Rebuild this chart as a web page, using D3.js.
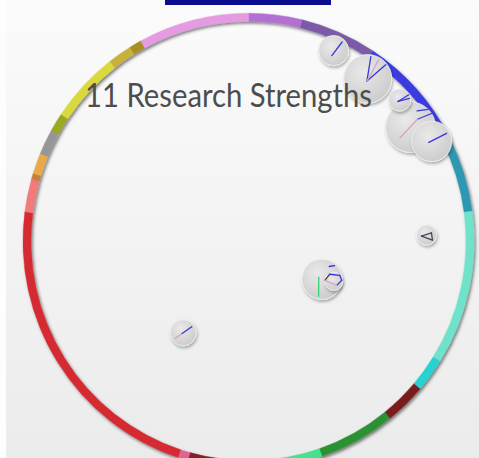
<!DOCTYPE html>
<html lang="en">
  <head>
    <meta charset="utf-8">
    <title>11 Research Strengths</title>
    <script src="https://d3js.org/d3.v7.min.js"></script>
    <style>
      body { margin: 0; overflow: hidden; }
    </style>
  </head>
<body>

  <div id="my_dataviz"></div>

  <script>

  // ---------------------------//
  //          DATA              //
  // ---------------------------//

  // ring segments, clockwise from 12 o'clock (span in degrees)
  var segSpans  = [13.8, 19.7, 29.2, 19.8, 39.4, 8.6, 10.7, 19.8, 17, 17.6, 2.6,
                   79.2, 8.4, 1.5, 5.3, 6.4, 4.8, 18.3, 6.2, 3.2, 28.5]
  var segColors = ["#b36fd2", "#7b5aa6", "#3b3be0", "#2e98b2", "#6fe2c9", "#26d2d2",
                   "#7a1d1f", "#2a9233", "#42e28f", "#80202a", "#e2638f", "#d52b32",
                   "#f27a7a", "#c7803c", "#e9a94a", "#969696", "#9aa824", "#d9d93c",
                   "#c6b13c", "#a88f24", "#e59be2"]

  // bubbles: angle (deg), distance from centre (0-1 of ring), size
  var bubbleAngle = [24.3, 36.6, 55.2, 47.3, 61.7, 88.1, 117.3, 115.1, 215.7]
  var bubbleDist  = [0.934, 0.903, 0.891, 0.929, 0.939, 0.804, 0.373, 0.425, 0.505]
  var bubbleSize  = [225, 576, 625, 121, 400, 100, 400, 81, 169]

  // links inside each bubble: [angle1, frac1, angle2, frac2, colour index]
  var bubbleLinks = [
    [[200, 0.35, 45, 0.8, 0]],
    [[200, 0.1, 8, 0.92, 0], [200, 0.1, 52, 0.95, 0], [200, 0.1, 30, 0.9, 2]],
    [[41, 0.42, 57, 1.0, 0], [22, 0.7, 45, 1.0, 0], [225, 0.6, 41, 0.42, 2]],
    [[230, 0.2, 60, 0.95, 0], [230, 0.2, 80, 0.9, 0]],
    [[250, 0.15, 62, 0.85, 0]],
    [[259, 0.51, 68, 0.54, 1], [68, 0.54, 130, 0.78, 1], [130, 0.78, 259, 0.51, 1]],
    [[304, 0.19, 191, 0.86, 3], [30, 0.73, 43, 0.93, 0]],
    [[276, 1.0, 330, 0.9, 1], [330, 0.9, 45, 0.94, 0], [45, 0.94, 83, 0.9, 0],
     [83, 0.9, 143, 0.56, 0], [143, 0.56, 276, 1.0, 2]],
    [[235, 0.75, 235, 0.1, 2], [235, 0.1, 55, 0.8, 0]]
  ]
  var linkColors = ["#3636dc", "#4a4458", "#d7a3c6", "#3ccf7a"]

  var title = "11 Research Strengths"

  // ---------------------------//
  //          SETUP             //
  // ---------------------------//
  var width = 479,
      height = 458,
      cx = 248.5,
      cy = 241,
      stretch = 1.01,   // slide picture is a touch taller than wide
      rInner = 217.5,
      rOuter = 225.5,
      rMid = (rInner + rOuter) / 2;

  var svg = d3.select("#my_dataviz")
    .append("svg")
      .attr("width", width)
      .attr("height", height)

  var defs = svg.append("defs")

  var bg = defs.append("linearGradient")
      .attr("id", "bg")
      .attr("x1", 0).attr("y1", 0).attr("x2", 0).attr("y2", 1)
  bg.append("stop").attr("offset", "0%").attr("stop-color", "#fbfbfb")
  bg.append("stop").attr("offset", "100%").attr("stop-color", "#ebebeb")

  var ball = defs.append("radialGradient")
      .attr("id", "ball")
      .attr("cx", "40%").attr("cy", "35%").attr("r", "70%")
  ball.append("stop").attr("offset", "0%").attr("stop-color", "#e9e9e9")
  ball.append("stop").attr("offset", "100%").attr("stop-color", "#cbcbcb")

  var shadow = defs.append("filter").attr("id", "shadow")
      .attr("x", "-20%").attr("y", "-20%").attr("width", "140%").attr("height", "140%")
  shadow.append("feDropShadow")
      .attr("dx", 1.5).attr("dy", 2).attr("stdDeviation", 1.5)
      .attr("flood-color", "#000").attr("flood-opacity", 0.5)

  var bshadow = defs.append("filter").attr("id", "bshadow")
      .attr("x", "-30%").attr("y", "-30%").attr("width", "160%").attr("height", "160%")
  bshadow.append("feDropShadow")
      .attr("dx", 1).attr("dy", 2).attr("stdDeviation", 1.5)
      .attr("flood-color", "#000").attr("flood-opacity", 0.3)

  // background
  svg.append("rect")
      .attr("width", width).attr("height", height)
      .attr("fill", "url(#bg)")
  svg.append("rect")
      .attr("width", 6).attr("height", height)
      .attr("fill", "#fdfdfd")

  // logo bar cut at the top
  svg.append("rect")
      .attr("x", 165).attr("y", 0)
      .attr("width", 166).attr("height", 5)
      .attr("fill", "#0c0c8e")

  var g = svg.append("g")
      .attr("transform", "translate(" + cx + "," + cy + ") scale(1," + stretch + ")")

  // ---------------------------//
  //       SCALES               //
  // ---------------------------//
  var angle = d3.scaleLinear().domain([0, 360]).range([0, 2 * Math.PI])
  var dist = d3.scaleLinear().domain([0, 1]).range([0, rMid])
  var size = d3.scaleSqrt().domain([0, 625]).range([0, 25])

  // ---------------------------//
  //       RING                 //
  // ---------------------------//
  var pie = d3.pie().value(function(d) { return d }).sort(null)
  var arc = d3.arc().innerRadius(rInner).outerRadius(rOuter)

  g.append("g")
      .attr("filter", "url(#shadow)")
    .selectAll("path")
    .data(pie(segSpans))
    .enter()
    .append("path")
      .attr("d", arc)
      .attr("fill", function(d, i) { return segColors[i] })
      .attr("stroke", function(d, i) { return segColors[i] })
      .attr("stroke-width", 0.4)

  // ---------------------------//
  //       BUBBLES              //
  // ---------------------------//
  var bubbles = bubbleAngle.map(function(a, i) {
    var p = d3.pointRadial(angle(a), dist(bubbleDist[i]))
    return { x: p[0], y: p[1], r: size(bubbleSize[i]), links: bubbleLinks[i] }
  })

  var node = g.selectAll(".bubble")
    .data(bubbles)
    .enter()
    .append("g")
      .attr("class", "bubble")
      .attr("transform", function(d) { return "translate(" + d.x + "," + d.y + ")" })

  node.append("circle")
      .attr("r", function(d) { return d.r })
      .attr("fill", "url(#ball)")
      .attr("stroke", "#f2f2f2")
      .attr("stroke-width", 0.8)
      .attr("filter", "url(#bshadow)")

  node.selectAll("line")
    .data(function(d) {
      return d.links.map(function(l) {
        var a = d3.pointRadial(angle(l[0]), l[1] * d.r)
        var b = d3.pointRadial(angle(l[2]), l[3] * d.r)
        return { x1: a[0], y1: a[1], x2: b[0], y2: b[1], c: linkColors[l[4]] }
      })
    })
    .enter()
    .append("line")
      .attr("x1", function(d) { return d.x1 })
      .attr("y1", function(d) { return d.y1 })
      .attr("x2", function(d) { return d.x2 })
      .attr("y2", function(d) { return d.y2 })
      .attr("stroke", function(d) { return d.c })
      .attr("stroke-width", 1.3)
      .attr("stroke-linecap", "round")

  // ---------------------------//
  //         TITLE              //
  // ---------------------------//
  svg.append("text")
      .attr("x", 85)
      .attr("y", 107)
      .attr("textLength", 287)
      .attr("lengthAdjust", "spacingAndGlyphs")
      .style("font-family", "Lato, 'Open Sans', sans-serif")
      .style("font-size", "32px")
      .style("fill", "#4d4d4d")
      .text(title)

  </script>
</body>
</html>
